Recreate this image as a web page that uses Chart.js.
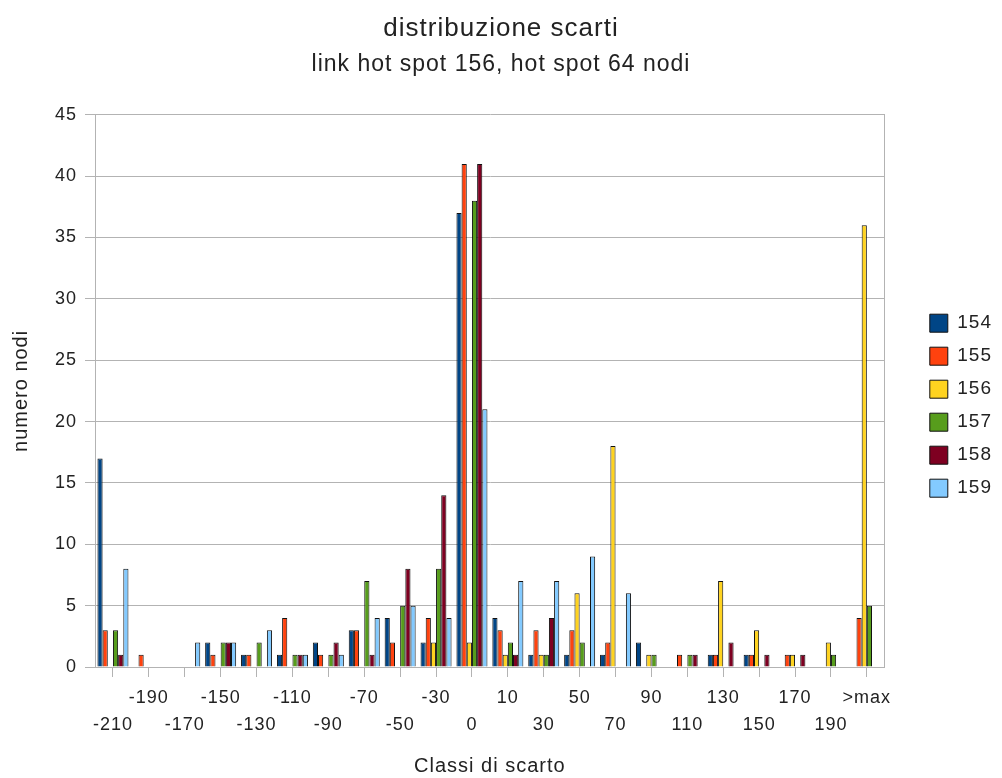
<!DOCTYPE html>
<html>
<head>
<meta charset="utf-8">
<script src="https://cdn.jsdelivr.net/npm/chart.js@4.4.1/dist/chart.umd.min.js"></script>
<style>
  html, body { margin: 0; padding: 0; background: #fff; }
  canvas { display: block; }
</style>
</head>
<body>
<canvas id="scartiChart" width="1002" height="778"></canvas>
<script>
// classi di scarto (asse x)
const classi = ["-210", "-190", "-170", "-150", "-130", "-110", "-90", "-70", "-50", "-30",
    "0", "10", "30", "50", "70", "90", "110", "130", "150", "170", "190", ">max"];

// numero nodi per classe, una serie per run
const s154 = [17, 0, 0, 2, 1, 1, 2, 3, 4, 2, 37, 4, 1, 1, 1, 2, 0, 1, 1, 0, 0, 0];
const s155 = [3, 1, 0, 1, 1, 4, 1, 3, 2, 4, 41, 3, 3, 3, 2, 0, 1, 1, 1, 1, 0, 4];
const s156 = [0, 0, 0, 0, 0, 0, 0, 0, 0, 2, 2, 1, 1, 6, 18, 1, 0, 7, 3, 1, 2, 36];
const s157 = [3, 0, 0, 2, 2, 1, 1, 7, 5, 8, 38, 2, 1, 2, 0, 1, 1, 0, 0, 0, 1, 5];
const s158 = [1, 0, 0, 2, 0, 1, 2, 1, 8, 14, 41, 1, 4, 0, 0, 0, 1, 2, 1, 1, 0, 0];
const s159 = [8, 0, 2, 2, 3, 1, 1, 4, 5, 4, 21, 7, 7, 9, 6, 0, 0, 0, 0, 0, 0, 0];

const serie = ["154", "155", "156", "157", "158", "159"];
const colori = ["#004586", "#ff420e", "#ffd320", "#579d1c", "#7e0021", "#83caff"];
const valori = [s154, s155, s156, s157, s158, s159];

const FONT = "'Liberation Sans', Arial, sans-serif";
const TEXT = "#222";
const GRID = "#b3b3b3";

// a bit of tracking on every text drawn on the canvas
const spacing = {
    id: "spacing",
    beforeUpdate: (chart) => { chart.ctx.letterSpacing = "1px"; },
    beforeDraw: (chart) => { chart.ctx.letterSpacing = "1px"; }
};

new Chart(document.getElementById("scartiChart"), {
    type: "bar",
    data: {
        labels: classi,
        datasets: serie.map((nome, i) => ({
            label: nome,
            data: valori[i],
            backgroundColor: colori[i],
            borderColor: "#111",
            borderWidth: 1,
            categoryPercentage: 0.864,
            barPercentage: 1.0
        }))
    },
    options: {
        responsive: false,
        animation: false,
        layout: { padding: { top: 0, right: 0, bottom: 0, left: 0 } },
        scales: {
            x: {
                grid: { offset: false, drawOnChartArea: false, tickLength: 10, color: GRID },
                border: { color: GRID },
                ticks: {
                    autoSkip: false, maxRotation: 0, minRotation: 0,
                    padding: 8,
                    color: TEXT,
                    font: { family: FONT, size: 18, lineHeight: 1.5 },
                    // alternate labels on two rows
                    callback: (value, index) => index % 2 === 0 ? ["", classi[index]] : [classi[index]]
                },
                title: {
                    display: true, text: "Classi di scarto", color: TEXT,
                    font: { family: FONT, size: 20 },
                    padding: { top: 0, bottom: 0 }
                },
                afterFit: (scale) => { scale.height = 111; }
            },
            y: {
                min: 0, max: 45,
                grid: { color: GRID, tickLength: 10 },
                border: { color: GRID },
                ticks: { stepSize: 5, padding: 8, color: TEXT, font: { family: FONT, size: 18 } },
                title: {
                    display: true, text: "numero nodi", color: TEXT,
                    font: { family: FONT, size: 20 },
                    padding: { top: 9, bottom: 0 }
                },
                afterFit: (scale) => { scale.width = 95; }
            },
            // right edge of the plot frame
            frame: {
                type: "linear", position: "right",
                grid: { display: false },
                ticks: { display: false },
                border: { color: GRID },
                afterFit: (scale) => { scale.width = 31; }
            }
        },
        plugins: {
            title: {
                display: true, text: "distribuzione scarti", color: TEXT,
                font: { family: FONT, size: 26, weight: "normal" },
                padding: { top: 13, bottom: 3 }
            },
            subtitle: {
                display: true, text: "link hot spot 156, hot spot 64 nodi", color: TEXT,
                font: { family: FONT, size: 23, weight: "normal" },
                padding: { top: 4, bottom: 36 }
            },
            legend: {
                position: "right",
                title: { display: true, text: "", padding: { top: 19, bottom: 0 } },
                labels: {
                    boxWidth: 18, boxHeight: 18, padding: 14,
                    color: TEXT,
                    font: { family: FONT, size: 19 }
                }
            },
            tooltip: { enabled: false }
        }
    },
    plugins: [spacing]
});
</script>
</body>
</html>
